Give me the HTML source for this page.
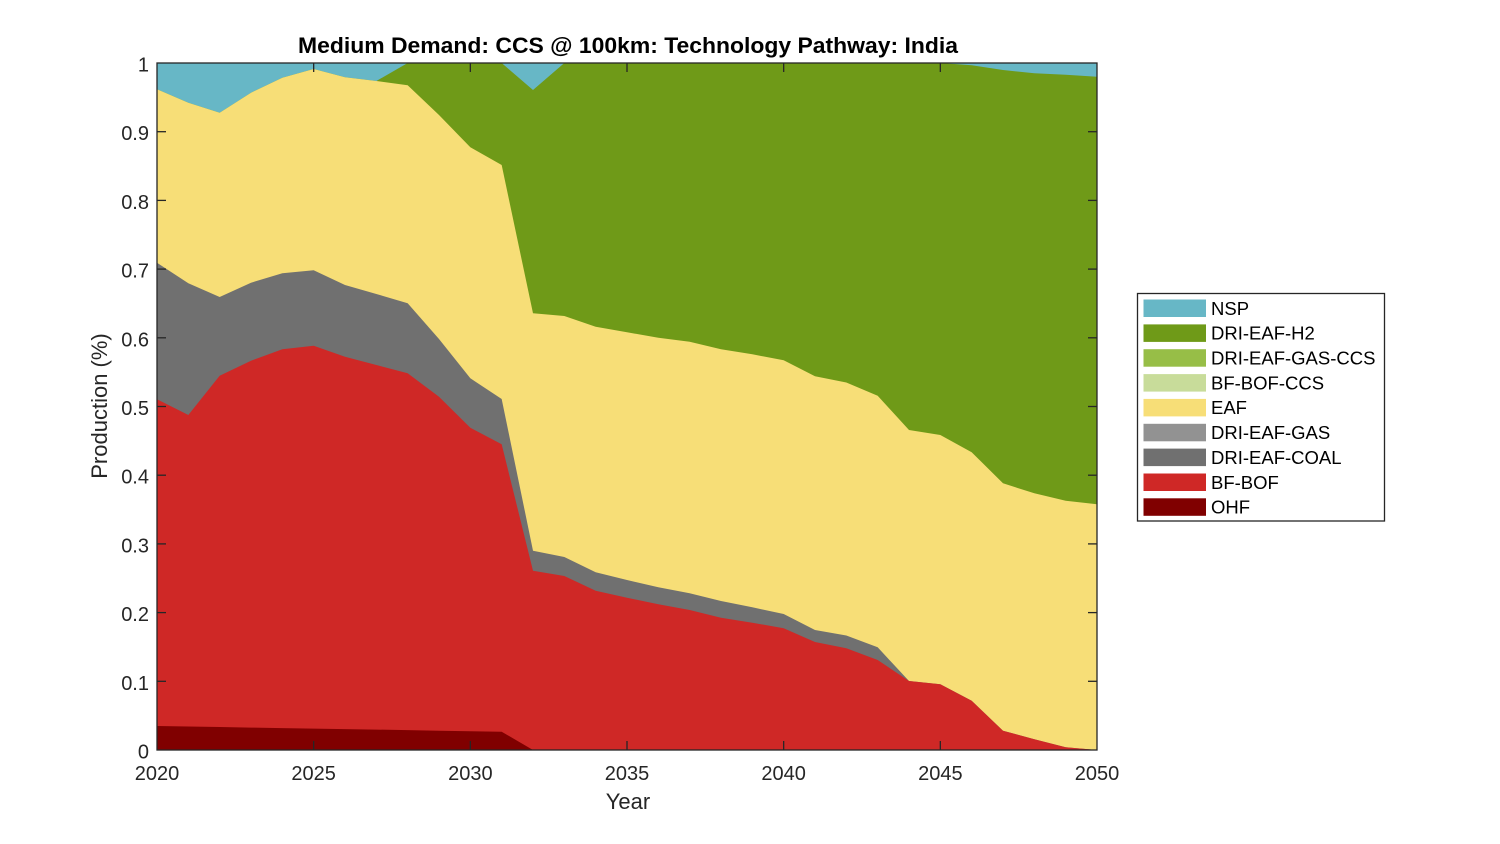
<!DOCTYPE html>
<html>
<head>
<meta charset="utf-8">
<style>
  html, body { margin: 0; padding: 0; background: #ffffff; }
  svg { display: block; }
  text { font-family: "Liberation Sans", Arial, Helvetica, sans-serif; }
</style>
</head>
<body>
<svg width="1500" height="844" viewBox="0 0 1500 844" xmlns="http://www.w3.org/2000/svg">
  <rect x="0" y="0" width="1500" height="844" fill="#ffffff"/>

  <!-- NSP (top layer, fills everything to 1) -->
  <rect x="157" y="63" width="940" height="687" fill="#67B7C6"/>

  <!-- DRI-EAF-H2 -->
  <polygon fill="#6F9A18" points="
    157,89.3 188.33,102.7 219.67,112.7 251,92.7 282.33,77.7 313.67,69 345,77.3 376.33,81
    407.67,63 439,63 470.33,63 501.67,63 533,90 564.33,63 595.67,63 627,63 658.33,63
    689.67,63 721,63 752.33,63 783.67,63 815,63 846.33,63 877.67,63 909,63 940.33,63
    971.67,65.3 1003,70 1034.33,73.3 1065.67,74.7 1097,76.7 1097,750 157,750"/>

  <!-- EAF -->
  <polygon fill="#F7DE77" points="
    157,89.3 188.33,102.7 219.67,112.7 251,92.7 282.33,77.7 313.67,69 345,77.3 376.33,81
    407.67,85.3 439,115 470.33,147.3 501.67,165 533,313.3 564.33,316 595.67,326.7 627,332.3
    658.33,337.7 689.67,341.7 721,349.3 752.33,354.3 783.67,360.3 815,376.3 846.33,382.5
    877.67,395.7 909,430 940.33,435 971.67,452.3 1003,483.3 1034.33,493.3 1065.67,500.7
    1097,504.3 1097,750 157,750"/>

  <!-- DRI-EAF-COAL -->
  <polygon fill="#707070" points="
    157,262.7 188.33,283.3 219.67,297 251,282.7 282.33,273.3 313.67,270.3 345,285 376.33,294
    407.67,303.3 439,339 470.33,378.3 501.67,399 533,550.7 564.33,557 595.67,572.3 627,580
    658.33,587.3 689.67,593.3 721,601 752.33,607.3 783.67,614 815,630 846.33,635.5
    877.67,647.3 909,681 940.33,684.3 971.67,700.7 1003,730.7 1034.33,739.3 1065.67,747.3
    1097,750 157,750"/>

  <!-- BF-BOF -->
  <polygon fill="#CF2826" points="
    157,399.3 188.33,415 219.67,375.7 251,360.7 282.33,349.3 313.67,345.7 345,356.7 376.33,365
    407.67,373.3 439,396.7 470.33,427.7 501.67,444.3 533,570.7 564.33,576 595.67,590.7 627,597.7
    658.33,604.3 689.67,610 721,617.7 752.33,622.7 783.67,628.3 815,642 846.33,648.3
    877.67,660 909,681 940.33,684.3 971.67,700.7 1003,730.7 1034.33,739.3 1065.67,747.3
    1097,750 157,750"/>

  <!-- OHF -->
  <polygon fill="#800000" points="
    157,726 188.33,726.5 219.67,727 251,727.6 282.33,728.1 313.67,728.6 345,729.1 376.33,729.6
    407.67,730.1 439,730.7 470.33,731.2 501.67,731.7 533,750 157,750"/>

  <!-- Axes box -->
  <rect x="157" y="63" width="940" height="687" fill="none" stroke="#262626" stroke-width="1.3"/>

  <!-- X ticks (bottom + top) -->
  <g stroke="#262626" stroke-width="1.3">
    <line x1="313.67" y1="750" x2="313.67" y2="741"/>
    <line x1="470.33" y1="750" x2="470.33" y2="741"/>
    <line x1="627" y1="750" x2="627" y2="741"/>
    <line x1="783.67" y1="750" x2="783.67" y2="741"/>
    <line x1="940.33" y1="750" x2="940.33" y2="741"/>
    <line x1="313.67" y1="63" x2="313.67" y2="72"/>
    <line x1="470.33" y1="63" x2="470.33" y2="72"/>
    <line x1="627" y1="63" x2="627" y2="72"/>
    <line x1="783.67" y1="63" x2="783.67" y2="72"/>
    <line x1="940.33" y1="63" x2="940.33" y2="72"/>
    <!-- Y ticks left + right -->
    <line x1="157" y1="681.3" x2="166" y2="681.3"/>
    <line x1="157" y1="612.6" x2="166" y2="612.6"/>
    <line x1="157" y1="543.9" x2="166" y2="543.9"/>
    <line x1="157" y1="475.2" x2="166" y2="475.2"/>
    <line x1="157" y1="406.5" x2="166" y2="406.5"/>
    <line x1="157" y1="337.8" x2="166" y2="337.8"/>
    <line x1="157" y1="269.1" x2="166" y2="269.1"/>
    <line x1="157" y1="200.4" x2="166" y2="200.4"/>
    <line x1="157" y1="131.7" x2="166" y2="131.7"/>
    <line x1="1097" y1="681.3" x2="1088" y2="681.3"/>
    <line x1="1097" y1="612.6" x2="1088" y2="612.6"/>
    <line x1="1097" y1="543.9" x2="1088" y2="543.9"/>
    <line x1="1097" y1="475.2" x2="1088" y2="475.2"/>
    <line x1="1097" y1="406.5" x2="1088" y2="406.5"/>
    <line x1="1097" y1="337.8" x2="1088" y2="337.8"/>
    <line x1="1097" y1="269.1" x2="1088" y2="269.1"/>
    <line x1="1097" y1="200.4" x2="1088" y2="200.4"/>
    <line x1="1097" y1="131.7" x2="1088" y2="131.7"/>
  </g>

  <!-- Y tick labels -->
  <g font-size="20" fill="#262626" text-anchor="end">
    <text x="149" y="758.5">0</text>
    <text x="149" y="689.8">0.1</text>
    <text x="149" y="621.1">0.2</text>
    <text x="149" y="552.4">0.3</text>
    <text x="149" y="483.7">0.4</text>
    <text x="149" y="415">0.5</text>
    <text x="149" y="346.3">0.6</text>
    <text x="149" y="277.6">0.7</text>
    <text x="149" y="208.9">0.8</text>
    <text x="149" y="140.2">0.9</text>
    <text x="149" y="71.5">1</text>
  </g>

  <!-- X tick labels -->
  <g font-size="20" fill="#262626" text-anchor="middle">
    <text x="157" y="780">2020</text>
    <text x="313.67" y="780">2025</text>
    <text x="470.33" y="780">2030</text>
    <text x="627" y="780">2035</text>
    <text x="783.67" y="780">2040</text>
    <text x="940.33" y="780">2045</text>
    <text x="1097" y="780">2050</text>
  </g>

  <!-- Axis labels -->
  <text x="628" y="809" font-size="22" fill="#262626" text-anchor="middle">Year</text>
  <text transform="translate(107,406) rotate(-90)" font-size="22" fill="#262626" text-anchor="middle">Production (%)</text>

  <!-- Title -->
  <text x="628" y="53" font-size="22" font-weight="bold" fill="#000000" text-anchor="middle" textLength="660" lengthAdjust="spacingAndGlyphs">Medium Demand: CCS @ 100km: Technology Pathway: India</text>

  <!-- Legend -->
  <rect x="1137.5" y="293.5" width="247" height="227.5" fill="#ffffff" stroke="#262626" stroke-width="1.3"/>
  <g>
    <rect x="1143.5" y="299.5" width="62.5" height="17.5" fill="#67B7C6"/>
    <rect x="1143.5" y="324.4" width="62.5" height="17.5" fill="#6F9A18"/>
    <rect x="1143.5" y="349.2" width="62.5" height="17.5" fill="#97BE47"/>
    <rect x="1143.5" y="374.1" width="62.5" height="17.5" fill="#C8DC9A"/>
    <rect x="1143.5" y="398.9" width="62.5" height="17.5" fill="#F7DE77"/>
    <rect x="1143.5" y="423.8" width="62.5" height="17.5" fill="#929292"/>
    <rect x="1143.5" y="448.6" width="62.5" height="17.5" fill="#707070"/>
    <rect x="1143.5" y="473.5" width="62.5" height="17.5" fill="#CF2826"/>
    <rect x="1143.5" y="498.3" width="62.5" height="17.5" fill="#800000"/>
  </g>
  <g font-size="18.5" fill="#000000">
    <text x="1211" y="314.8">NSP</text>
    <text x="1211" y="339.7">DRI-EAF-H2</text>
    <text x="1211" y="364.5">DRI-EAF-GAS-CCS</text>
    <text x="1211" y="389.4">BF-BOF-CCS</text>
    <text x="1211" y="414.2">EAF</text>
    <text x="1211" y="439.1">DRI-EAF-GAS</text>
    <text x="1211" y="463.9">DRI-EAF-COAL</text>
    <text x="1211" y="488.8">BF-BOF</text>
    <text x="1211" y="513.6">OHF</text>
  </g>
</svg>
</body>
</html>
